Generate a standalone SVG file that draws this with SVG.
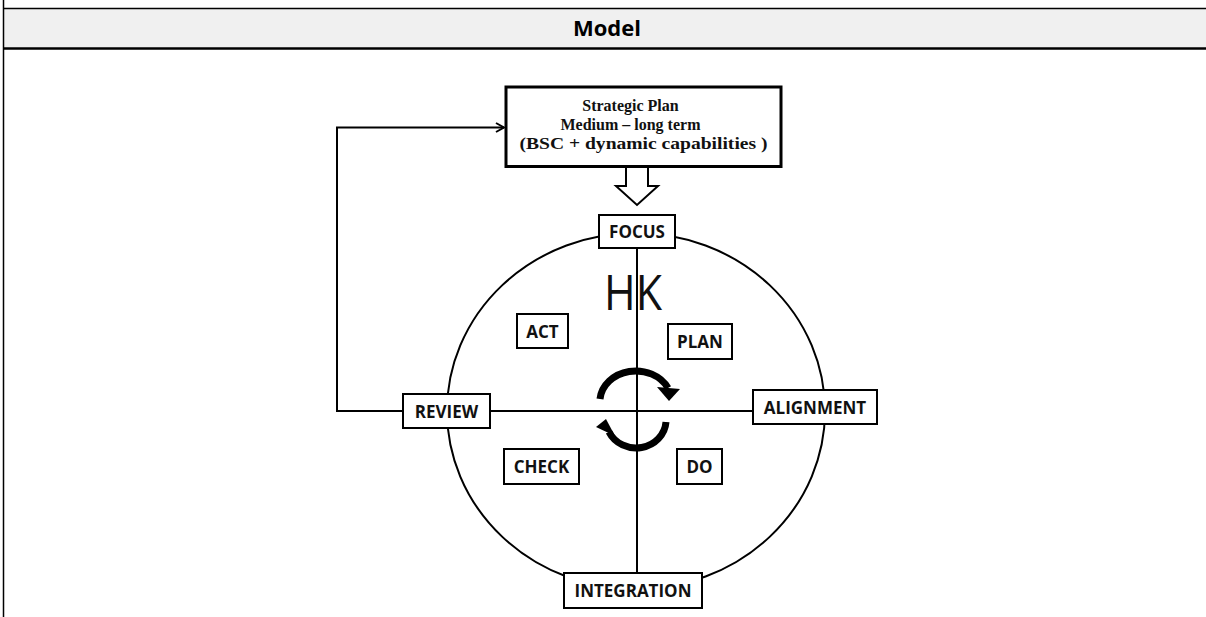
<svg xmlns="http://www.w3.org/2000/svg" width="1206" height="617" viewBox="0 0 1206 617">
<defs>
<style>
.bx{fill:#fff;stroke:#000;stroke-width:2}
.lb{font-family:"Open Sans","Liberation Sans",sans-serif;font-weight:bold;font-size:17px;text-anchor:middle;fill:#111}
.sp{font-family:"Liberation Serif","Times New Roman",serif;font-weight:bold;font-size:16px;text-anchor:middle;fill:#111}
.ln{fill:none;stroke:#000;stroke-width:2}
.rot{fill:none;stroke:#000;stroke-width:7}
</style>
<marker id="open" markerWidth="12" markerHeight="12" refX="10" refY="6" orient="auto" markerUnits="userSpaceOnUse">
<path d="M2,1.5 L10,6 L2,10.5" fill="none" stroke="#000" stroke-width="2"/>
</marker>
</defs>
<rect width="1206" height="617" fill="#fff"/>
<g id="table">
<rect x="3.5" y="8.5" width="1203" height="39" fill="#f0f0f0"/>
<line x1="3.5" y1="0" x2="3.5" y2="617" stroke="#000" stroke-width="1.5"/>
<line x1="3" y1="8.5" x2="1206" y2="8.5" stroke="#000" stroke-width="1.5"/>
<line x1="3" y1="48.5" x2="1206" y2="48.5" stroke="#000" stroke-width="2.5"/>
<text x="607" y="36" font-family="'Open Sans','Liberation Sans',sans-serif" font-weight="bold" font-size="22" text-anchor="middle" fill="#000">Model</text>
</g>
<g id="connectors">
<ellipse cx="636" cy="411" rx="189" ry="178" class="ln"/>
<line x1="637" y1="248" x2="637" y2="573" class="ln"/>
<line x1="490" y1="411" x2="753" y2="411" class="ln"/>
<polyline points="403,411 337,411 337,127.5 504,127.5" class="ln" marker-end="url(#open)"/>
<path d="M626,167 L626,186 L616,186 L637,205 L658,186 L648,186 L648,167" fill="#fff" stroke="#000" stroke-width="2" stroke-linejoin="miter"/>
<path d="M600,399 A36,31 0 0 1 668,388" class="rot"/>
<polygon points="657,387 680,389 669,401" fill="#000"/>
<path d="M666,422 A30,28 0 0 1 609,432" class="rot"/>
<polygon points="596,427 606,419 615,436" fill="#000"/>
</g>
<g id="hk">
<text x="633" y="310" font-family="'Open Sans','Liberation Sans',sans-serif" font-size="49" text-anchor="middle" textLength="58" lengthAdjust="spacingAndGlyphs" fill="#111">HK</text>
</g>
<g id="strategic">
<rect x="506" y="87" width="275" height="79.5" fill="#fff" stroke="#000" stroke-width="3"/>
<text x="630.5" y="110.5" class="sp">Strategic Plan</text>
<text x="630.5" y="130" class="sp">Medium – long term</text>
<text x="643.5" y="149" class="sp" textLength="248" lengthAdjust="spacingAndGlyphs">(BSC + dynamic capabilities )</text>
</g>
<g id="focus"><rect x="599" y="215" width="76" height="33" class="bx"/><text x="637" y="238" class="lb">FOCUS</text></g>
<g id="review"><rect x="403" y="394" width="87" height="34" class="bx"/><text x="446.5" y="417.5" class="lb">REVIEW</text></g>
<g id="alignment"><rect x="753" y="390" width="124" height="34" class="bx"/><text x="815" y="413.5" class="lb">ALIGNMENT</text></g>
<g id="integration"><rect x="564" y="573" width="138" height="35" class="bx"/><text x="633" y="597" class="lb">INTEGRATION</text></g>
<g id="act"><rect x="517" y="314" width="51" height="34" class="bx"/><text x="542.5" y="337.5" class="lb">ACT</text></g>
<g id="plan"><rect x="668" y="324" width="64" height="35" class="bx"/><text x="700" y="348" class="lb">PLAN</text></g>
<g id="check"><rect x="504" y="449" width="75" height="35" class="bx"/><text x="541.5" y="473" class="lb">CHECK</text></g>
<g id="do"><rect x="677" y="449" width="45" height="35" class="bx"/><text x="699.5" y="473" class="lb">DO</text></g>
</svg>
